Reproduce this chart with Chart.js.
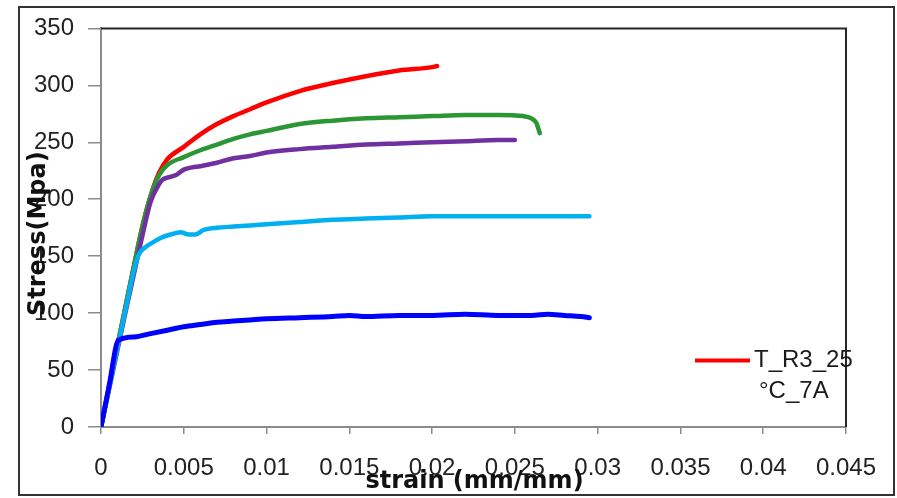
<!DOCTYPE html>
<html>
<head>
<meta charset="utf-8">
<script src="https://cdn.jsdelivr.net/npm/chart.js@4/dist/chart.umd.min.js"></script>
<style>
  html, body { margin: 0; padding: 0; background: #fff; }
  #wrap { width: 897px; height: 498px; }
</style>
</head>
<body>
<div id="wrap"><canvas id="c" width="897" height="498"></canvas></div>
<script>
// ---- data ----
const xTickValues = [0, 0.005, 0.01, 0.015, 0.02, 0.025, 0.03, 0.035, 0.04, 0.045];
const xTickLabels = ['0', '0.005', '0.01', '0.015', '0.02', '0.025', '0.03', '0.035', '0.04', '0.045'];
const yTickValues = [0, 50, 100, 150, 200, 250, 300, 350];
const yTickLabels = ['0', '50', '100', '150', '200', '250', '300', '350'];

const xTitle = 'strain (mm/mm)';
const yTitle = 'Stress(Mpa)';

const redLabel = 'T_R3_25 °C_7A';
const redLegendLines = ['T_R3_25', '°C_7A'];

const redStrain = [0, 0.0005, 0.001, 0.0015, 0.002, 0.0025, 0.003, 0.0035, 0.004, 0.005, 0.006, 0.007, 0.008, 0.009, 0.010, 0.012, 0.014, 0.016, 0.018, 0.020, 0.0203];
const redStress = [0, 36, 72, 107, 142, 176, 203, 223, 235, 246, 257, 266, 273, 279, 285, 295, 302, 308, 313, 316, 317];

const greenStrain = [0, 0.0005, 0.001, 0.0015, 0.002, 0.0025, 0.003, 0.0035, 0.004, 0.005, 0.006, 0.007, 0.008, 0.009, 0.010, 0.012, 0.014, 0.016, 0.018, 0.020, 0.022, 0.024, 0.0255, 0.026, 0.0263, 0.0265];
const greenStress = [0, 36, 72, 107, 142, 176, 203, 221, 230, 237, 243, 248, 253, 257, 260, 266, 269, 271, 272, 273, 274, 274, 273, 271, 267, 258];

const purpleStrain = [0, 0.0005, 0.001, 0.0015, 0.002, 0.0025, 0.003, 0.0035, 0.0037, 0.004, 0.0045, 0.005, 0.0055, 0.006, 0.007, 0.008, 0.009, 0.010, 0.012, 0.014, 0.016, 0.018, 0.020, 0.022, 0.024, 0.025];
const purpleStress = [0, 34, 68, 102, 135, 168, 198, 213, 217, 219, 221, 226, 228, 229, 232, 236, 238, 241, 244, 246, 248, 249, 250, 251, 252, 252];

const cyanStrain = [0, 0.0005, 0.001, 0.0015, 0.002, 0.0023, 0.0027, 0.003, 0.0036, 0.0042, 0.0048, 0.0053, 0.0057, 0.0062, 0.007, 0.008, 0.009, 0.010, 0.012, 0.014, 0.016, 0.018, 0.020, 0.022, 0.024, 0.026, 0.028, 0.0295];
const cyanStress = [0, 35, 70, 104, 138, 152, 158, 161, 166, 169, 171, 169, 169, 173, 175, 176, 177, 178, 180, 182, 183, 184, 185, 185, 185, 185, 185, 185];

const blueStrain = [0, 0.0005, 0.00105, 0.002, 0.003, 0.004, 0.005, 0.006, 0.007, 0.008, 0.009, 0.010, 0.012, 0.014, 0.015, 0.016, 0.018, 0.020, 0.022, 0.024, 0.026, 0.027, 0.028, 0.029, 0.0295];
const blueStress = [0, 37, 76, 79, 82, 85, 88, 90, 92, 93, 94, 95, 96, 97, 98, 97, 98, 98, 99, 98, 98, 99, 98, 97, 96];

// ---- helpers ----
const pts = (xs, ys) => xs.map((x, i) => ({ x: x, y: ys[i] }));

function series(label, xs, ys, color, width, order) {
  return {
    label: label,
    data: pts(xs, ys),
    borderColor: color,
    backgroundColor: color,
    borderWidth: width,
    pointRadius: 0,
    pointHoverRadius: 0,
    fill: false,
    cubicInterpolationMode: 'monotone',
    borderCapStyle: 'round',
    borderJoinStyle: 'round',
    order: order
  };
}

const TICK_FONT = { family: '"Liberation Sans", Arial, sans-serif', size: 24 };
const TITLE_FONT = 'bold 24px "DejaVu Sans", Verdana, sans-serif';
const LEGEND_FONT = '24px "Liberation Sans", Arial, sans-serif';

const decor = {
  id: 'decor',
  beforeDraw(chart) {
    const { ctx, width, height } = chart;
    ctx.save();
    ctx.fillStyle = '#ffffff';
    ctx.fillRect(0, 0, width, height);
    ctx.restore();
  },
  beforeDatasetsDraw(chart) {
    const { ctx, chartArea: a } = chart;
    ctx.save();
    ctx.strokeStyle = '#262626';
    ctx.lineWidth = 2;
    ctx.beginPath();
    ctx.moveTo(a.left, a.top);
    ctx.lineTo(a.right, a.top);
    ctx.lineTo(a.right, a.bottom);
    ctx.stroke();
    ctx.restore();
  },
  afterDraw(chart) {
    const { ctx, chartArea: a } = chart;
    ctx.save();
    // outer chart frame
    ctx.strokeStyle = '#333';
    ctx.lineWidth = 2;
    ctx.strokeRect(19, 7, 875, 488);

    // axis titles
    ctx.fillStyle = '#111';
    ctx.font = TITLE_FONT;
    ctx.textAlign = 'center';
    ctx.textBaseline = 'middle';
    ctx.fillText(xTitle, (a.left + a.right) / 2 + 1, a.bottom + 55);
    ctx.translate(39, (a.top + a.bottom) / 2 + 6);
    ctx.rotate(-Math.PI / 2);
    ctx.fillText(yTitle, 0, 0);
    ctx.restore();

    // legend (only the red series is listed)
    const ds = chart.data.datasets[0];
    const lx = a.right - 151, ly = a.top + 332;
    ctx.save();
    ctx.strokeStyle = ds.borderColor;
    ctx.lineWidth = 4;
    ctx.beginPath();
    ctx.moveTo(lx, ly);
    ctx.lineTo(lx + 55, ly);
    ctx.stroke();
    ctx.fillStyle = '#1a1a1a';
    ctx.font = LEGEND_FONT;
    ctx.textAlign = 'left';
    ctx.textBaseline = 'middle';
    redLegendLines.forEach((t, i) => ctx.fillText(t, lx + 59 + (i ? 5 : 0), ly + i * 31));
    ctx.restore();
  }
};

new Chart(document.getElementById('c'), {
  type: 'line',
  data: {
    datasets: [
      series(redLabel, redStrain, redStress, 'rgb(255,0,0)', 4.5, 4),
      series('', greenStrain, greenStress, 'rgb(44,150,52)', 4.5, 3),
      series('', purpleStrain, purpleStress, 'rgb(112,48,160)', 4.5, 2),
      series('', cyanStrain, cyanStress, 'rgb(0,176,240)', 4.5, 1),
      series('', blueStrain, blueStress, 'rgb(0,0,255)', 5, 0)
    ]
  },
  options: {
    responsive: false,
    animation: false,
    events: [],
    layout: { padding: { left: 0, top: 27, right: 51, bottom: 0 } },
    plugins: {
      legend: { display: false },
      tooltip: { enabled: false },
      title: { display: false }
    },
    scales: {
      x: {
        type: 'linear',
        min: 0,
        max: 0.045,
        afterBuildTicks: s => { s.ticks = xTickValues.map(v => ({ value: v })); },
        afterFit: s => { s.height = 71; },
        border: { display: true, color: '#8c8c8c', width: 2 },
        grid: { drawOnChartArea: false, drawTicks: true, tickLength: 7, color: '#8c8c8c', lineWidth: 1.5 },
        ticks: {
          autoSkip: false,
          maxRotation: 0,
          minRotation: 0,
          padding: 20,
          color: '#222',
          font: TICK_FONT,
          callback: (v, i) => xTickLabels[i]
        }
      },
      y: {
        type: 'linear',
        min: 0,
        max: 350,
        afterBuildTicks: s => { s.ticks = yTickValues.map(v => ({ value: v })); },
        afterFit: s => { s.width = 101; },
        border: { display: true, color: '#8c8c8c', width: 2 },
        grid: { drawOnChartArea: false, drawTicks: true, tickLength: 13, color: '#8c8c8c', lineWidth: 1.5 },
        ticks: {
          padding: 14,
          color: '#222',
          font: TICK_FONT,
          callback: (v, i) => yTickLabels[i]
        }
      }
    }
  },
  plugins: [decor]
});
</script>
</body>
</html>
